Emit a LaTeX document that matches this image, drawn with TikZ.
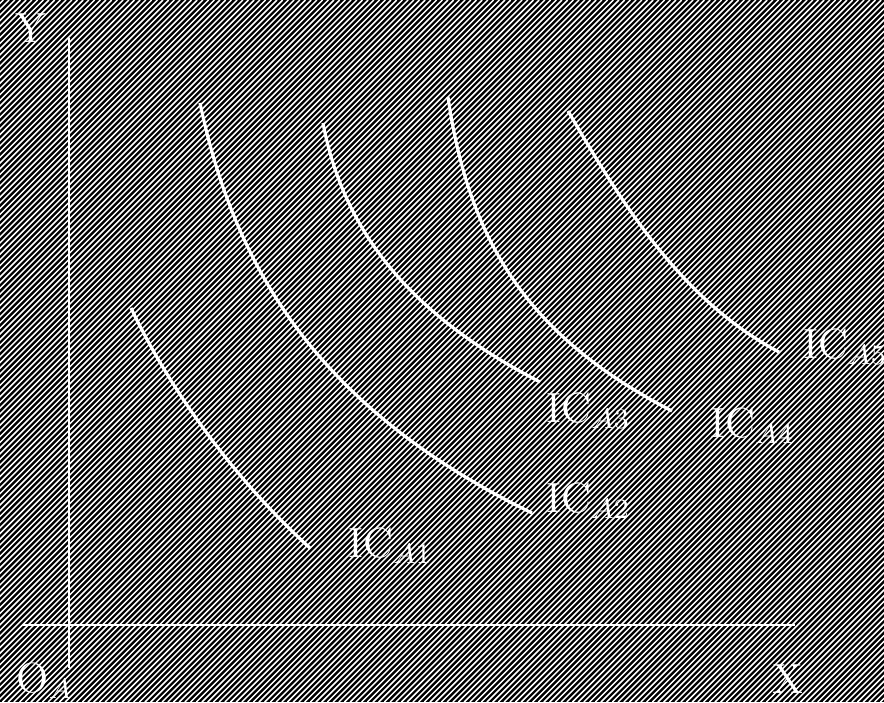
\documentclass[tikz,border=0pt]{standalone}
\usepackage{amsmath}
\usepackage{fontspec}
\usepackage{tikz}

\tikzset{
  hatch/.style={white,line width=0.42pt},
  axisline/.style={white,line width=0.6pt},
  icurve/.style={white,line width=0.9pt},
  iclabel/.style={text=white,inner sep=0pt,anchor=base west,font=\fontsize{12}{14}\selectfont}
}

\begin{document}
\begin{tikzpicture}[x=0.01cm,y=-0.01cm]
  \useasboundingbox (0,0) rectangle (884,702);
  % hatched background
  \fill[black] (0,0) rectangle (884,702);
  \begin{scope}
    \clip (0,0) rectangle (884,702);
    \foreach \i in {-710,-704.3,...,890}
      \draw[hatch] (\i,702) -- ++(702,-702);
  \end{scope}

  % axes
  \draw[axisline] (69,38) -- (69,668);
  \draw[axisline] (22,625) -- (795,625);
  \node[iclabel] (ylab) at (15,42) {Y};
  \node[iclabel] (xlab) at (772,693) {X};
  \node[iclabel] (origin) at (16,692) {O$_A$};

  % indifference curves
  \draw[icurve] (131,308) .. controls (170,390) and (235,480) .. (310,548);
  \draw[icurve] (200,103) .. controls (235,270) and (320,410) .. (532,513);
  \draw[icurve] (323,123) .. controls (345,240) and (420,320) .. (540,382);
  \draw[icurve] (448,97) .. controls (470,250) and (535,340) .. (672,411);
  \draw[icurve] (568,111) .. controls (620,200) and (680,300) .. (779,352);

  % labels
  \node[iclabel] (ic1) at (348,557) {IC$_{A1}$};
  \node[iclabel] (ic2) at (546,512) {IC$_{A2}$};
  \node[iclabel] (ic3) at (546,422) {IC$_{A3}$};
  \node[iclabel] (ic4) at (710,437) {IC$_{A4}$};
  \node[iclabel] (ic5) at (803,358) {IC$_{A5}$};
\end{tikzpicture}
\end{document}
